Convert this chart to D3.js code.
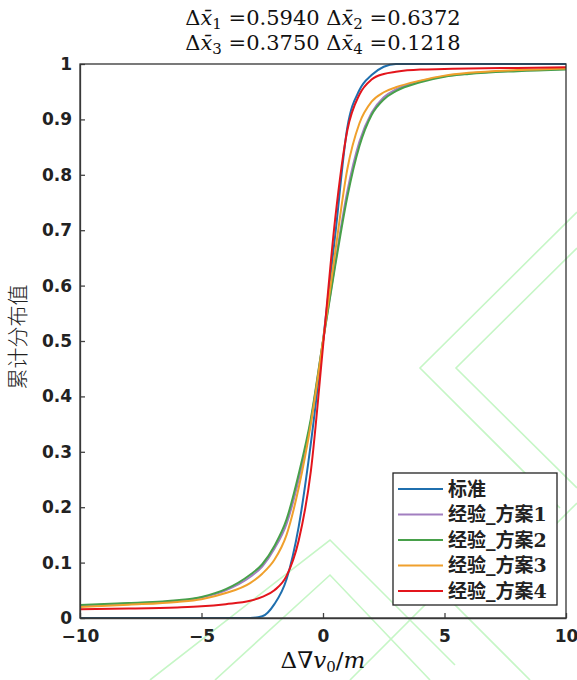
<!DOCTYPE html>
<html lang="zh">
<head>
<meta charset="UTF-8">
<title>累计分布值</title>
<script src="https://cdn.jsdelivr.net/npm/d3@7"></script>
<style>
  body { margin: 0; background: #fff; }
</style>
</head>
<body>
<div id="container"></div>
<script>
// data
const xGrid = [-10, -8, -6, -5, -4, -3, -2.5, -2, -1.5, -1, -0.5, 0, 0.5, 1, 1.5, 2, 2.5, 3, 4, 5, 6, 8, 10]
const yStandard = [0, 0, 0, 0, 0, 0, 0.003, 0.025, 0.07, 0.165, 0.315, 0.5, 0.69, 0.885, 0.953, 0.98, 0.995, 1, 1, 1, 1, 1, 1]
const yPlan1 = [0.022, 0.026, 0.031, 0.037, 0.05, 0.074, 0.093, 0.125, 0.17, 0.25, 0.355, 0.5, 0.64, 0.77, 0.86, 0.912, 0.94, 0.954, 0.969, 0.978, 0.983, 0.988, 0.991]
const yPlan2 = [0.0235, 0.027, 0.032, 0.038, 0.052, 0.078, 0.097, 0.13, 0.178, 0.26, 0.36, 0.5, 0.635, 0.76, 0.852, 0.908, 0.936, 0.951, 0.967, 0.977, 0.982, 0.987, 0.99]
const yPlan3 = [0.02, 0.024, 0.029, 0.034, 0.045, 0.063, 0.08, 0.105, 0.15, 0.235, 0.35, 0.5, 0.66, 0.81, 0.893, 0.932, 0.949, 0.958, 0.97, 0.979, 0.984, 0.989, 0.992]
const yPlan4 = [0.016, 0.017, 0.019, 0.021, 0.025, 0.031, 0.038, 0.05, 0.076, 0.14, 0.265, 0.49, 0.72, 0.88, 0.945, 0.972, 0.982, 0.986, 0.99, 0.991, 0.992, 0.993, 0.994]
const seriesNames = ['标准', '经验_方案1', '经验_方案2', '经验_方案3', '经验_方案4']
const seriesColors = ['#1f6fae', '#a27ec0', '#47a04a', '#f0a02c', '#e3151c']
const xTicks = [-10, -5, 0, 5, 10]
const yTicks = [0, 0.1, 0.2, 0.3, 0.4, 0.5, 0.6, 0.7, 0.8, 0.9, 1]
const titleLines = [
  [['1', '0.5940'], ['2', '0.6372']],
  [['3', '0.3750'], ['4', '0.1218']]
]

const width = 577
const height = 680
const marginTop = 64
const marginRight = 11
const marginBottom = 62
const marginLeft = 80

const svg = d3.select('#container').append('svg')
  .attr('width', width)
  .attr('height', height)
  .attr('viewBox', [0, 0, width, height])

// watermark (light outlines in the background)
const wm = [
  [[577, 212], [420, 368], [560, 508]],
  [[577, 248], [456, 368], [577, 488]],
  [[150, 680], [330, 540], [455, 665]],
  [[215, 680], [330, 575], [430, 680]],
  [[520, 560], [577, 503]],
  [[350, 680], [440, 590], [530, 680]]
]
svg.append('g')
  .attr('fill', 'none')
  .attr('stroke', '#c6f6c6')
  .attr('stroke-width', 1.6)
  .selectAll('polyline')
  .data(wm)
  .join('polyline')
  .attr('points', d => d.map(p => p.join(',')).join(' '))

const x = d3.scaleLinear().domain([-10, 10]).range([marginLeft, width - marginRight])
const y = d3.scaleLinear().domain([0, 1]).range([height - marginBottom, marginTop])

// curves
const series = [yStandard, yPlan1, yPlan2, yPlan3, yPlan4]
const line = d3.line()
  .x((d, i) => x(xGrid[i]))
  .y(d => y(d))
  .curve(d3.curveMonotoneX)

svg.append('g')
  .attr('fill', 'none')
  .attr('stroke-width', 2)
  .selectAll('path')
  .data(series)
  .join('path')
  .attr('stroke', (d, i) => seriesColors[i])
  .attr('d', line)

// axes
const tickFont = '"DejaVu Sans", sans-serif'
svg.append('g')
  .attr('transform', `translate(0,${height - marginBottom})`)
  .call(d3.axisBottom(x).tickValues(xTicks).tickSizeInner(-5).tickSizeOuter(0).tickPadding(12))
  .call(g => g.selectAll('text').attr('font-size', 17).attr('font-weight', 'bold')
    .attr('font-family', tickFont).attr('fill', '#222'))

svg.append('g')
  .attr('transform', `translate(${marginLeft},0)`)
  .call(d3.axisLeft(y).tickValues(yTicks).tickFormat(d3.format('~g')).tickSizeInner(-5).tickSizeOuter(0).tickPadding(8))
  .call(g => g.selectAll('text').attr('font-size', 17).attr('font-weight', 'bold')
    .attr('font-family', tickFont).attr('fill', '#222'))

svg.selectAll('.domain, .tick line').attr('stroke', '#444').attr('stroke-width', 1.3)

// box
svg.append('rect')
  .attr('x', marginLeft).attr('y', marginTop)
  .attr('width', width - marginLeft - marginRight)
  .attr('height', height - marginTop - marginBottom)
  .attr('fill', 'none').attr('stroke', '#333').attr('stroke-width', 1.3)

// title
const serif = '"DejaVu Serif", "Liberation Serif", serif'
titleLines.forEach((pairs, li) => {
  const t = svg.append('text')
    .attr('x', (marginLeft + width - marginRight) / 2)
    .attr('y', 25 + li * 25)
    .attr('text-anchor', 'middle')
    .attr('font-family', serif)
    .attr('font-size', 21)
    .attr('fill', '#111')
  pairs.forEach((p, k) => {
    t.append('tspan').text((k > 0 ? ' ' : '') + 'Δ')
    t.append('tspan').attr('font-style', 'italic').text('x\u0304')
    t.append('tspan').attr('font-size', 15).attr('dy', 4).text(p[0])
    t.append('tspan').attr('dy', -4).text(' =' + p[1])
  })
})

// x label
const xl = svg.append('text')
  .attr('x', (marginLeft + width - marginRight) / 2)
  .attr('y', 668)
  .attr('text-anchor', 'middle')
  .attr('font-family', serif)
  .attr('font-size', 23)
  .attr('fill', '#111')
xl.append('tspan').text('Δ∇')
xl.append('tspan').attr('font-style', 'italic').text('v')
xl.append('tspan').attr('font-size', 15).attr('dy', 4).text('0')
xl.append('tspan').attr('dy', -4).text('/')
xl.append('tspan').attr('font-style', 'italic').text('m')

// y label
svg.append('text')
  .attr('transform', `translate(25,${(marginTop + height - marginBottom) / 2 - 4}) rotate(-90)`)
  .attr('text-anchor', 'middle')
  .attr('font-family', '"Noto Sans CJK SC", sans-serif')
  .attr('font-weight', 300)
  .attr('font-size', 21)
  .attr('fill', '#222')
  .text('累计分布值')

// legend
const lg = svg.append('g').attr('transform', 'translate(393,473)')
lg.append('rect')
  .attr('width', 164).attr('height', 132)
  .attr('fill', '#fff').attr('stroke', '#222').attr('stroke-width', 1.3)
const items = lg.selectAll('g.item')
  .data(seriesNames)
  .join('g')
  .attr('class', 'item')
  .attr('transform', (d, i) => `translate(0,${16 + i * 25.5})`)
items.append('line')
  .attr('x1', 5).attr('x2', 50)
  .attr('stroke', (d, i) => seriesColors[i])
  .attr('stroke-width', 2)
items.append('text')
  .attr('x', 55)
  .attr('dy', '0.35em')
  .attr('font-family', '"DejaVu Serif", "Noto Sans CJK SC", serif')
  .attr('font-weight', 'bold')
  .attr('font-size', 19)
  .attr('fill', '#222')
  .text(d => d)
</script>
</body>
</html>
